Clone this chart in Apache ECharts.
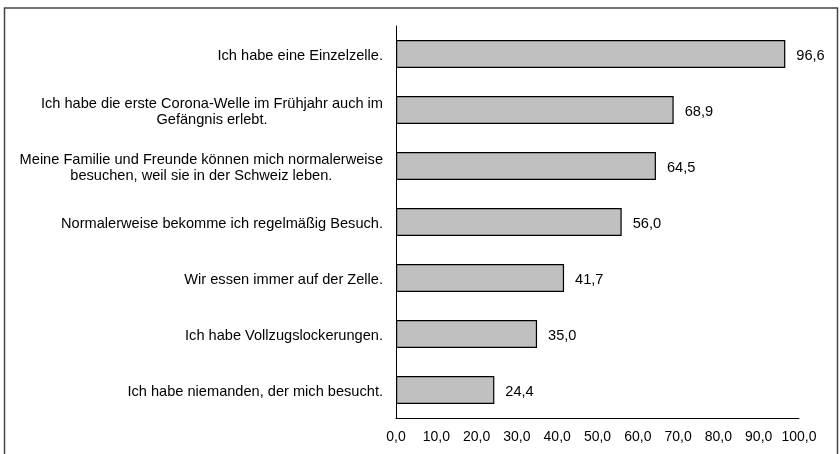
<!DOCTYPE html>
<html><head><meta charset="utf-8">
<script src="https://cdn.jsdelivr.net/npm/echarts@6/dist/echarts.min.js"></script>
<style>html,body{margin:0;padding:0;background:#fff}#c{width:840px;height:454px}</style>
</head><body><div id="c"></div>
<script>
const categories = [
  "Ich habe eine Einzelzelle.",
  "Ich habe die erste Corona-Welle im Frühjahr auch im\nGefängnis erlebt.",
  "Meine Familie und Freunde können mich normalerweise\nbesuchen, weil sie in der Schweiz leben.",
  "Normalerweise bekomme ich regelmäßig Besuch.",
  "Wir essen immer auf der Zelle.",
  "Ich habe Vollzugslockerungen.",
  "Ich habe niemanden, der mich besucht."
];
const values = [96.6, 68.9, 64.5, 56.0, 41.7, 35.0, 24.4];
const fmt = v => Number(v).toFixed(1).replace('.', ',');
const chart = echarts.init(document.getElementById('c'));
chart.setOption({
  animation: false,
  textStyle: {fontFamily: 'Liberation Sans, Arial, sans-serif'},
  grid: {left: 396, right: 41, top: 26, bottom: 36, containLabel: false},
  xAxis: {
    type: 'value', min: 0, max: 100, interval: 10,
    splitLine: {show: false},
    axisTick: {show: false},
    axisLine: {show: true, lineStyle: {color: '#000', width: 1}},
    axisLabel: {color: '#000', fontSize: 14, margin: 12, formatter: fmt}
  },
  yAxis: {
    type: 'category', data: categories, inverse: true,
    axisTick: {show: false},
    axisLine: {show: true, lineStyle: {color: '#000', width: 1}},
    axisLabel: {
      color: '#000', fontSize: 14.6, margin: 13, lineHeight: 16, padding: [4, 0, 0, 0],
      formatter: v => v.split('\n').map(s => '{c|' + s + '}').join('\n'),
      rich: {c: {align: 'center', color: '#000', fontSize: 14.6, lineHeight: 16}}
    }
  },
  series: [{
    type: 'bar', data: values, barWidth: 28,
    itemStyle: {color: '#c0c0c0', borderColor: '#000', borderWidth: 1.2},
    label: {show: true, position: 'right', distance: 11, offset: [0, 2], color: '#000', fontSize: 14.6, formatter: p => fmt(p.value)}
  }],
  graphic: [{
    type: 'rect', shape: {x: 4.5, y: 8, width: 833, height: 460},
    style: {fill: 'none', stroke: '#444', lineWidth: 1.5}, silent: true
  }]
});
</script></body></html>
